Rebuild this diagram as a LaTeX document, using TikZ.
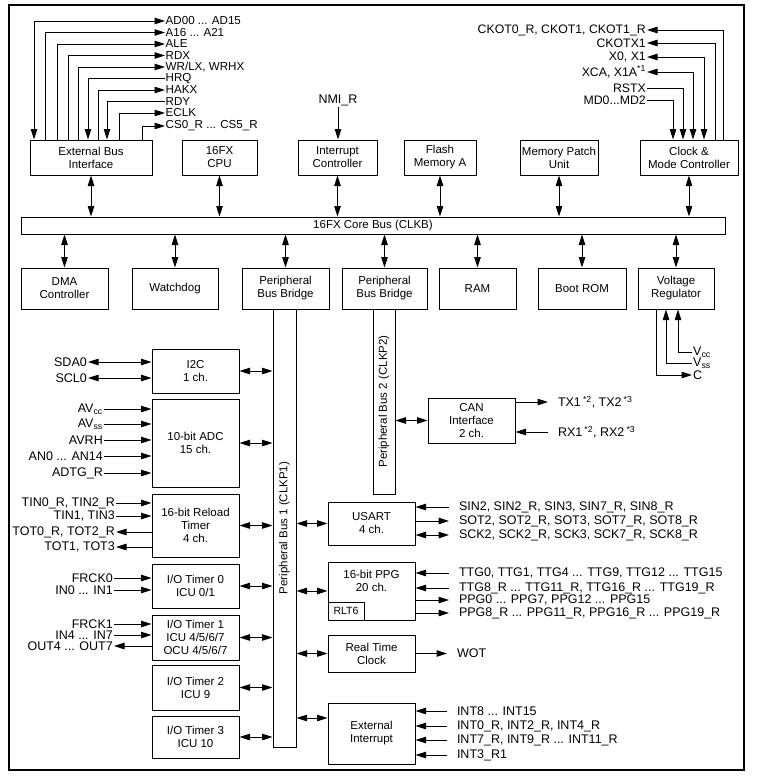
\documentclass[tikz,border=0pt]{standalone}
\usepackage{fontspec}
\setmainfont{Liberation Sans}
\usetikzlibrary{arrows.meta,calc}
\begin{document}
\begin{tikzpicture}[x=1pt,y=-1pt,
  >={Triangle[length=10.5pt,width=6.5pt]},
  box/.style={draw, line width=1pt, align=center, inner sep=0pt, font=\fontsize{11.5}{13}\selectfont},
  sig/.style={inner sep=1pt, font=\fontsize{12.5}{13}\selectfont},
  tsig/.style={inner sep=1pt, font=\fontsize{12.3}{12}\selectfont},
  esig/.style={inner sep=0.5pt, anchor=west, font=\fontsize{11.6}{12}\selectfont},
  rsig/.style={sig, anchor=west, outer xsep=9pt},
  wire/.style={line width=1pt},
  buslabel/.style={inner sep=0pt, rotate=90, font=\fontsize{11.5}{12}\selectfont},
]
\useasboundingbox (0,0) rectangle (756,779);
\node[draw, line width=1.8pt, minimum width=735, minimum height=765, inner sep=0pt] (frame) at (376.5,387.5) {};

% top row
\node[box, minimum width=122, minimum height=35] (ebi) at (91,157.5) {External Bus\\Interface};
\node[box, minimum width=75, minimum height=35] (cpu) at (219.5,157.5) {16FX\\CPU};
\node[box, minimum width=79, minimum height=35] (intc) at (337.5,157.5) {Interrupt\\Controller};
\node[box, minimum width=72, minimum height=35] (flash) at (440,157.5) {Flash\\Memory A};
\node[box, minimum width=78, minimum height=35] (mpu) at (559,157.5) {Memory Patch\\Unit};
\node[box, minimum width=98, minimum height=35] (clk) at (689,157.5) {Clock \&\\Mode Controller};

% core bus
\node[box, minimum width=704, minimum height=17] (bus) at (373,225.5) {16FX Core Bus (CLKB)};

% second row
\node[box, minimum width=87, minimum height=41] (dma) at (64.5,288.5) {DMA\\Controller};
\node[box, minimum width=86, minimum height=41] (wdg) at (175,288.5) {Watchdog};
\node[box, minimum width=87, minimum height=41] (pbb1) at (285.5,288.5) {Peripheral\\Bus Bridge};
\node[box, minimum width=85, minimum height=41] (pbb2) at (384.5,288.5) {Peripheral\\Bus Bridge};
\node[box, minimum width=77, minimum height=41] (ram) at (477.5,288.5) {RAM};
\node[box, minimum width=88, minimum height=41] (rom) at (582,288.5) {Boot ROM};
\node[box, minimum width=76, minimum height=41] (vreg) at (676,288.5) {Voltage\\Regulator};

\foreach \n in {ebi,cpu,intc,flash,mpu,clk}
  \draw[wire,<->] (\n.south) -- (\n.south |- bus.north);
\foreach \n in {dma,wdg,pbb1,pbb2,ram,rom,vreg}
  \draw[wire,<->] (bus.south -| \n.north) -- (\n.north);

% peripheral buses
\node[box, minimum width=23, minimum height=438] (pb1) at (284.5,528) {};
\node[buslabel] (pb1lbl) at (pb1.center) {Peripheral Bus 1 (CLKP1)};
\node[box, minimum width=22, minimum height=185] (pb2) at (384,401.5) {};
\node[buslabel] (pb2lbl) at (pb2.center) {Peripheral Bus 2 (CLKP2)};

% left column
\node[box, minimum width=87, minimum height=44] (i2c) at (195.5,371) {I2C\\1 ch.};
\node[box, minimum width=87, minimum height=88] (adc) at (195.5,443) {10-bit ADC\\15 ch.};
\node[box, minimum width=87, minimum height=63] (rld) at (195.5,525.5) {16-bit Reload\\Timer\\4 ch.};
\node[box, minimum width=87, minimum height=44] (iot0) at (195.5,586) {I/O Timer 0\\ICU 0/1};
\node[box, minimum width=87, minimum height=45] (iot1) at (195.5,637.5) {I/O Timer 1\\ICU 4/5/6/7\\OCU 4/5/6/7};
\node[box, minimum width=87, minimum height=45] (iot2) at (195.5,687.5) {I/O Timer 2\\ICU 9};
\node[box, minimum width=87, minimum height=42] (iot3) at (195.5,737) {I/O Timer 3\\ICU 10};
\foreach \n in {i2c,adc,rld,iot0,iot1,iot2,iot3}
  \draw[wire,<->] (\n.east) -- (\n.east -| pb1.west);

% right column
\node[box, minimum width=87, minimum height=45] (can) at (471.5,420.5) {CAN\\Interface\\2 ch.};
\draw[wire,<->] (pb2.east |- can.west) -- (can.west);
\node[box, minimum width=87, minimum height=43] (usart) at (371.5,523.5) {USART\\4 ch.};
\node[box, minimum width=87, minimum height=58] (ppg) at (371.5,591) {};
\node[inner sep=0pt, align=center, font=\fontsize{11.5}{13}\selectfont] (ppgtxt) at (371.5,581) {16-bit PPG\\20 ch.};
\node[box, anchor=south west, minimum width=36, minimum height=18, font=\fontsize{10.5}{11}\selectfont] (rlt) at (ppg.south west) {RLT6};
\node[box, minimum width=87, minimum height=37] (rtc) at (371.5,653.5) {Real Time\\Clock};
\node[box, minimum width=87, minimum height=61] (exti) at (371.5,733.5) {External\\Interrupt};
\coordinate (extport) at ($(exti.north west)!0.25!(exti.south west)$);
\foreach \n in {usart,ppg,rtc}
  \draw[wire,<->] (pb1.east |- \n.west) -- (\n.west);
\draw[wire,<->] (pb1.east |- extport) -- (extport);

% NMI
\node[sig] (nmi) at (338,100) {NMI\_R};
\draw[wire,->] (nmi.south) -- (nmi.south |- intc.north);

% external bus signals
\node[esig] (sAD) at (165,21) {AD00 ... AD15};
\node[esig] (sA16) at (165,32.5) {A16 ... A21};
\node[esig] (sALE) at (165,44) {ALE};
\node[esig] (sRDX) at (165,55.5) {RDX};
\node[esig] (sWR) at (165,67) {WR/LX, WRHX};
\node[esig] (sHRQ) at (165,78.5) {HRQ};
\node[esig] (sHAKX) at (165,90) {HAKX};
\node[esig] (sRDY) at (165,101.5) {RDY};
\node[esig] (sECLK) at (165,113) {ECLK};
\node[esig] (sCS) at (165,126) {CS0\_R ... CS5\_R};
\coordinate (xAD) at (34,0);
\coordinate (xA16) at (45,0);
\coordinate (xALE) at (57,0);
\coordinate (xRDX) at (68,0);
\coordinate (xWR) at (78,0);
\coordinate (xHRQ) at (88,0);
\coordinate (xHAKX) at (98,0);
\coordinate (xRDY) at (107,0);
\coordinate (xECLK) at (119,0);
\coordinate (xCS) at (142,0);
\draw[wire,<->] (sAD.west) -| (xAD |- ebi.north);
\foreach \s in {A16,ALE,RDX,WR,HAKX,ECLK,CS}
  \draw[wire,->] (x\s |- ebi.north) |- (s\s.west);
\foreach \s in {HRQ,RDY}
  \draw[wire,->] (s\s.west) -| (x\s |- ebi.north);

% clock signals
\node[tsig, anchor=east] (sCK0) at (647,30) {CKOT0\_R, CKOT1, CKOT1\_R};
\node[tsig, anchor=east] (sCKX) at (647,43) {CKOTX1};
\node[tsig, anchor=east] (sX0) at (647,57) {X0, X1};
\node[tsig, anchor=east] (sXCA) at (647,72) {XCA, X1A\textsuperscript{*1}};
\node[tsig, anchor=east] (sRST) at (647,88) {RSTX};
\node[tsig, anchor=east] (sMD) at (647,100) {MD0...MD2};
\coordinate (xCK0) at (723,0);
\coordinate (xCKX) at (715,0);
\coordinate (xX0) at (704,0);
\coordinate (xXCA) at (693,0);
\coordinate (xRST) at (683,0);
\coordinate (xMD) at (673,0);
\foreach \s in {CK0,CKX}
  \draw[wire,->] (x\s |- clk.north) |- (s\s.east);
\foreach \s in {X0,XCA}
  \draw[wire,<->] (s\s.east) -| (x\s |- clk.north);
\foreach \s in {RST,MD}
  \draw[wire,->] (s\s.east) -| (x\s |- clk.north);

% voltage regulator
\node[sig, anchor=west] (sVcc) at (692,352) {V\textsubscript{cc}};
\node[sig, anchor=west] (sVss) at (692,363) {V\textsubscript{ss}};
\node[sig, anchor=west] (sC) at (692,375) {C};
\coordinate (xVcc) at (678,0);
\coordinate (xVss) at (666,0);
\coordinate (xC) at (656,0);
\draw[wire,->] (sVcc.west) -| (xVcc |- vreg.south);
\draw[wire,->] (sVss.west) -| (xVss |- vreg.south);
\draw[wire,->] (xC |- vreg.south) |- (sC.west);

% I2C
\node[sig, anchor=east] (sSDA) at (88,362) {SDA0};
\node[sig, anchor=east] (sSCL) at (88,378) {SCL0};
\foreach \s in {SDA,SCL}
  \draw[wire,<->] (s\s.east) -- (s\s.east -| i2c.west);

% ADC
\node[sig, anchor=east] (sAVcc) at (104,409) {AV\textsubscript{cc}};
\node[sig, anchor=east] (sAVss) at (104,424) {AV\textsubscript{ss}};
\node[sig, anchor=east] (sAVRH) at (104,440) {AVRH};
\node[sig, anchor=east] (sAN) at (104,456) {AN0 ... AN14};
\node[sig, anchor=east] (sADTG) at (104,473) {ADTG\_R};
\foreach \s in {AVcc,AVss,AVRH,AN,ADTG}
  \draw[wire,->] (s\s.east) -- (s\s.east -| adc.west);

% reload timer
\node[sig, anchor=east] (sTIN0) at (116,503) {TIN0\_R, TIN2\_R};
\node[sig, anchor=east] (sTIN1) at (116,516) {TIN1, TIN3};
\node[sig, anchor=east] (sTOT0) at (116,532) {TOT0\_R, TOT2\_R};
\node[sig, anchor=east] (sTOT1) at (116,547) {TOT1, TOT3};
\foreach \s in {TIN0,TIN1}
  \draw[wire,->] (s\s.east) -- (s\s.east -| rld.west);
\foreach \s in {TOT0,TOT1}
  \draw[wire,->] (s\s.east -| rld.west) -- (s\s.east);

% I/O timers
\node[sig, anchor=east] (sFR0) at (114,578) {FRCK0};
\node[sig, anchor=east] (sIN0) at (114,590) {IN0 ... IN1};
\foreach \s in {FR0,IN0}
  \draw[wire,->] (s\s.east) -- (s\s.east -| iot0.west);
\node[sig, anchor=east] (sFR1) at (114,624) {FRCK1};
\node[sig, anchor=east] (sIN4) at (114,635) {IN4 ... IN7};
\node[sig, anchor=east] (sOUT4) at (114,646) {OUT4 ... OUT7};
\foreach \s in {FR1,IN4}
  \draw[wire,->] (s\s.east) -- (s\s.east -| iot1.west);
\draw[wire,->] (sOUT4.east -| iot1.west) -- (sOUT4.east);

% CAN
\node[rsig] (sTX) at (548,402) {TX1\,\textsuperscript{*2}, TX2\,\textsuperscript{*3}};
\node[rsig] (sRX) at (548,432) {RX1\,\textsuperscript{*2}, RX2\,\textsuperscript{*3}};
\draw[wire,->] (can.east |- sTX.west) -- (sTX.west);
\draw[wire,->] (sRX.west) -- (sRX.west -| can.east);

% USART
\node[rsig] (sSIN) at (449,507) {SIN2, SIN2\_R, SIN3, SIN7\_R, SIN8\_R};
\node[rsig] (sSOT) at (449,521) {SOT2, SOT2\_R, SOT3, SOT7\_R, SOT8\_R};
\node[rsig] (sSCK) at (449,535) {SCK2, SCK2\_R, SCK3, SCK7\_R, SCK8\_R};
\draw[wire,->] (sSIN.west) -- (sSIN.west -| usart.east);
\draw[wire,->] (usart.east |- sSOT.west) -- (sSOT.west);
\draw[wire,<->] (usart.east |- sSCK.west) -- (sSCK.west);

% PPG
\node[rsig] (sTTG0) at (449,573) {TTG0, TTG1, TTG4 ... TTG9, TTG12 ... TTG15};
\node[rsig] (sTTG8) at (449,588) {TTG8\_R ... TTG11\_R, TTG16\_R ... TTG19\_R};
\node[rsig] (sPPG0) at (449,600) {PPG0 ... PPG7, PPG12 ... PPG15};
\node[rsig] (sPPG8) at (449,613) {PPG8\_R ... PPG11\_R, PPG16\_R ... PPG19\_R};
\foreach \s in {TTG0,TTG8}
  \draw[wire,->] (s\s.west) -- (s\s.west -| ppg.east);
\foreach \s in {PPG0,PPG8}
  \draw[wire,->] (ppg.east |- s\s.west) -- (s\s.west);

% RTC
\node[rsig] (sWOT) at (447,653.5) {WOT};
\draw[wire,->] (rtc.east |- sWOT.west) -- (sWOT.west);

% External interrupt
\node[rsig] (sINT8) at (447,711) {INT8 ... INT15};
\node[rsig] (sINT0) at (447,726) {INT0\_R, INT2\_R, INT4\_R};
\node[rsig] (sINT7) at (447,740) {INT7\_R, INT9\_R ... INT11\_R};
\node[rsig] (sINT3) at (447,755) {INT3\_R1};
\foreach \s in {INT8,INT0,INT7,INT3}
  \draw[wire,->] (s\s.west) -- (s\s.west -| exti.east);
\end{tikzpicture}
\end{document}
